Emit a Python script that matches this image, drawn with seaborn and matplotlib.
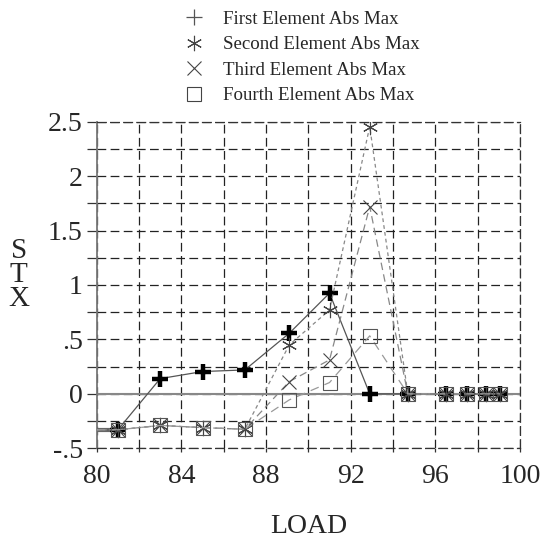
import numpy as np
import pandas as pd
import matplotlib
matplotlib.use("Agg")
import matplotlib.pyplot as plt
from matplotlib.lines import Line2D
import seaborn as sns

# === data ===
load = [80, 81, 83, 85, 87, 89.1, 91, 92.9, 94.7, 96.5, 97.5, 98.4, 99.05]
first = [-0.33, -0.33, 0.14, 0.205, 0.22, 0.557, 0.925, 0.0, 0, 0, 0, 0, 0]
second = [-0.33, -0.33, -0.29, -0.31, -0.325, 0.45, 0.77, 2.455, 0, 0, 0, 0, 0]
third = [-0.33, -0.33, -0.29, -0.31, -0.325, 0.113, 0.312, 1.72, 0, 0, 0, 0, 0]
fourth = [-0.33, -0.33, -0.29, -0.31, -0.325, -0.055, 0.104, 0.533, 0, 0, 0, 0, 0]
labels = ["First Element Abs Max", "Second Element Abs Max",
          "Third Element Abs Max", "Fourth Element Abs Max"]
x_ticks = [80, 84, 88, 92, 96, 100]
y_ticks = [-0.5, 0, 0.5, 1, 1.5, 2, 2.5]
y_tick_labels = ["-.5", "0", ".5", "1", "1.5", "2", "2.5"]

df = pd.DataFrame({"LOAD": load, labels[0]: first, labels[1]: second,
                   labels[2]: third, labels[3]: fourth})

sns.set_style("white")
plt.rcParams['font.family'] = ['Liberation Serif', 'DejaVu Serif']

fig = plt.figure(figsize=(5.44, 5.47), dpi=100)
ax = fig.add_axes([96.7 / 544, 1 - 448.3 / 547, 423.3 / 544, 326.6 / 547])

dash = (0, (7, 3.5))
ax.set_xlim(80, 100)
ax.set_ylim(-0.5, 2.5)
ax.set_xticks(np.arange(80, 101, 2), minor=True)
ax.set_yticks(np.arange(-0.5, 2.51, 0.25), minor=True)
ax.set_xticks(x_ticks)
ax.set_xticklabels([str(t) for t in x_ticks], fontsize=20)
ax.set_yticks(y_ticks)
ax.set_yticklabels(y_tick_labels, fontsize=20)
ax.grid(True, which='both', color='#222222', linestyle=dash, linewidth=0.9)
ax.tick_params(axis='y', which='both', direction='out', length=7, width=0.9,
               color='#333333', left=True, pad=3)
ax.tick_params(axis='x', which='both', direction='out', length=3, width=0.9,
               color='#333333', bottom=True, pad=8)

for side in ['top', 'right', 'bottom']:
    ax.spines[side].set_linestyle(dash)
    ax.spines[side].set_color('#333333')
    ax.spines[side].set_linewidth(0.9)
ax.spines['left'].set_color('#777777')
ax.spines['left'].set_linewidth(1.3)

ax.axhline(0, color='#888888', lw=1.5, zorder=2)

# thick start segment (first load step)
sns.lineplot(x=load[:2], y=first[:2], ax=ax, color='#666666', lw=3, zorder=3)

marks = list(range(1, len(load)))
styles = [
    dict(marker='+', ms=12, mew=3.2, color='#555555', mec='black', linestyle='-', lw=0.9),
    dict(marker=(6, 2, 0), ms=11, mew=0.8, color='#888888', mec='#444444', linestyle=(0, (3, 2.5)), lw=0.9),
    dict(marker='x', ms=10, mew=0.8, color='#888888', mec='#444444', linestyle=(0, (6, 3.5)), lw=0.9),
    dict(marker='s', ms=10, mew=0.8, color='#999999', mec='#555555', mfc='none', linestyle=(0, (7, 5)), lw=0.9),
]
for lab, st in zip(labels, styles):
    sns.lineplot(data=df, x="LOAD", y=lab, ax=ax, sort=False, markevery=marks,
                 zorder=3, **st)

ax.set_xlabel("LOAD", fontsize=20)
ax.xaxis.set_label_coords(0.5, -0.2)
ax.set_ylabel("S\nT\nX", fontsize=21, rotation=0, linespacing=0.9, va='center', ha='center')
ax.yaxis.set_label_coords(-0.184, 0.53)

handles = [
    Line2D([], [], marker='+', ls='none', color='#555555', ms=11, mew=0.9),
    Line2D([], [], marker=(6, 2, 0), ls='none', color='#444444', ms=11, mew=0.8),
    Line2D([], [], marker='x', ls='none', color='#444444', ms=10, mew=0.8),
    Line2D([], [], marker='s', ls='none', color='#444444', mfc='none', ms=10, mew=0.8),
]
fig.legend(handles, labels, loc='upper left', bbox_to_anchor=(173 / 544, 1 - 1 / 547),
           frameon=False, fontsize=13.6, labelspacing=0.44, handletextpad=0.95,
           handlelength=1.2, borderpad=0.0)

fig.savefig("out.png", dpi=100)
